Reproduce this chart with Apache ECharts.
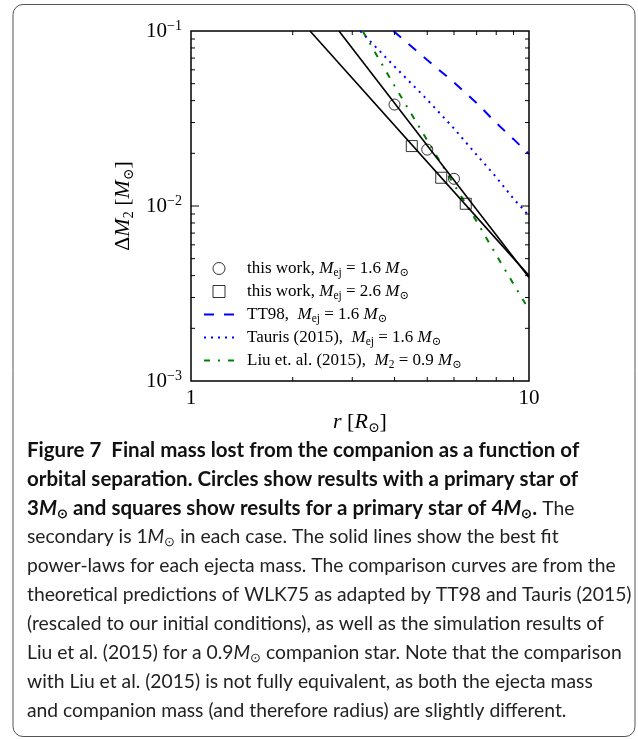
<!DOCTYPE html>
<html><head><meta charset="utf-8">
<script src="https://cdn.jsdelivr.net/npm/echarts@6/dist/echarts.min.js"></script>
<style>html,body{margin:0;padding:0;background:#fff}#c{width:638px;height:740px}</style>
</head><body><div id="c"></div>
<script>
// ---- axis / tick data ----
const xLimits = [1, 10];
const yLimits = [0.001, 0.1];
const xTickValues = [1, 10];
const xTickLabels = ['1', '10'];
const yTickValues = [0.001, 0.01, 0.1];
const yTickExponents = ['\u22123', '\u22122', '\u22121'];
const xMinorTicks = [2, 3, 4, 5, 6, 7, 8, 9];
const yMinorTicks = [0.002, 0.003, 0.004, 0.005, 0.006, 0.007, 0.008, 0.009,
                     0.02, 0.03, 0.04, 0.05, 0.06, 0.07, 0.08, 0.09];
const yMajorTicks = [0.01];

// ---- series data (r in R_sun, dM2 in M_sun) ----
const rCircle = [4, 5, 6];
const dmCircle = [0.038, 0.021, 0.0143];
const rSquare = [4.5, 5.5, 6.5];
const dmSquare = [0.022, 0.0145, 0.0103];
const rFit16 = [2.74, 10];
const dmFit16 = [0.1, 0.0039];
const rFit26 = [2.25, 10];
const dmFit26 = [0.1, 0.0040];
const rTT98 = [3.97, 5, 6, 7, 8, 9, 10];
const dmTT98 = [0.1, 0.0683, 0.0508, 0.0388, 0.0298, 0.0241, 0.0198];
const rTauris = [3.17, 4, 5, 6, 7, 8, 9, 10];
const dmTauris = [0.1, 0.0627, 0.0405, 0.0277, 0.0196, 0.0146, 0.0110, 0.0088];
const rLiu = [3.22, 4, 5, 6, 7, 8, 9, 10];
const dmLiu = [0.1, 0.0486, 0.0237, 0.01325, 0.00817, 0.00525, 0.00358, 0.00255];

const legendTexts = {
  c16: '{g| }{t|this work, }{i|M}{sub|ej}{t| = 1.6 }{i|M}{sub|\u2299}',
  c26: '{g| }{t|this work, }{i|M}{sub|ej}{t| = 2.6 }{i|M}{sub|\u2299}',
  tt98: '{g| }{t|TT98,  }{i|M}{sub|ej}{t| = 1.6 }{i|M}{sub|\u2299}',
  tauris: '{g| }{t|Tauris (2015),  }{i|M}{sub|ej}{t| = 1.6 }{i|M}{sub|\u2299}',
  liu: '{g| }{t|Liu et. al. (2015),  }{i|M}{sub|2}{t| = 0.9 }{i|M}{sub|\u2299}'
};

const captionLines = [
  '{b|Figure 7  Final mass lost from the companion as a function of}',
  '{b|orbital separation. Circles show results with a primary star of}',
  '{b|3}{bi|M}{bsub|\u2299}{b| and squares show results for a primary star of 4}{bi|M}{bsub|\u2299}{b|.}{r| The}',
  '{r|secondary is 1}{ri|M}{rsub|\u2299}{r| in each case. The solid lines show the best fit}',
  '{r|power-laws for each ejecta mass. The comparison curves are from the}',
  '{r|theoretical predictions of WLK75 as adapted by TT98 and Tauris (2015)}',
  '{r|(rescaled to our initial conditions), as well as the simulation results of}',
  '{r|Liu et al. (2015) for a 0.9}{ri|M}{rsub|\u2299}{r| companion star. Note that the comparison}',
  '{r|with Liu et al. (2015) is not fully equivalent, as both the ejecta mass}',
  '{r|and companion mass (and therefore radius) are slightly different.}'
];

const SERIF = '"Liberation Serif", "DejaVu Serif", serif';
const SANS = 'Lato, "Open Sans", sans-serif';
const pairs = (xs, ys) => xs.map((x, i) => [x, ys[i]]);
const nearestIdx = (vals, v) => {
  let best = 0;
  vals.forEach((t, i) => { if (Math.abs(Math.log10(t) - Math.log10(v)) < Math.abs(Math.log10(vals[best]) - Math.log10(v))) best = i; });
  return best;
};

function tickLine(x1, y1, x2, y2) {
  return { type: 'line', shape: { x1, y1, x2, y2 }, style: { stroke: '#000', lineWidth: 1 } };
}
function xTickSeries(vals, len) {
  return {
    type: 'custom', coordinateSystem: 'cartesian2d', silent: true, clip: false, z: 10,
    data: vals.map(v => [v, yLimits[0]]),
    renderItem: (p, api) => {
      const x = api.value(0);
      const b = api.coord([x, yLimits[0]]);
      const t = api.coord([x, yLimits[1]]);
      return { type: 'group', children: [tickLine(b[0], b[1], b[0], b[1] - len), tickLine(t[0], t[1], t[0], t[1] + len)] };
    }
  };
}
function yTickSeries(vals, len) {
  return {
    type: 'custom', coordinateSystem: 'cartesian2d', silent: true, clip: false, z: 10,
    data: vals.map(v => [xLimits[0], v]),
    renderItem: (p, api) => {
      const y = api.value(1);
      const l = api.coord([xLimits[0], y]);
      const r = api.coord([xLimits[1], y]);
      return { type: 'group', children: [tickLine(l[0], l[1], l[0] + len, l[1]), tickLine(r[0], r[1], r[0] - len, r[1])] };
    }
  };
}

const capRich = {
  b: { fontFamily: SANS, fontWeight: 'bold', fontSize: 20.5, lineHeight: 24, fill: '#111' },
  bi: { fontFamily: SANS, fontWeight: 'bold', fontStyle: 'italic', fontSize: 20.5, lineHeight: 24, fill: '#111' },
  bsub: { fontFamily: SANS, fontWeight: 'bold', fontSize: 13, lineHeight: 13, verticalAlign: 'bottom', fill: '#111' },
  r: { fontFamily: SANS, fontSize: 19.3, lineHeight: 24, fill: '#222' },
  ri: { fontFamily: SANS, fontStyle: 'italic', fontSize: 19.3, lineHeight: 24, fill: '#222' },
  rsub: { fontFamily: SANS, fontSize: 13, lineHeight: 13, verticalAlign: 'bottom', fill: '#222' }
};

const graphics = [{
  type: 'rect', shape: { x: 13, y: 4.5, width: 622, height: 732, r: 10 },
  style: { fill: 'none', stroke: '#555', lineWidth: 1 }, silent: true
}];
captionLines.forEach((line, i) => {
  graphics.push({
    type: 'text', left: 27, top: 440 + i * 29, silent: true,
    style: { text: line, rich: capRich, fill: '#222', fontFamily: SANS, fontSize: 19 }
  });
});

const nameRich = {
  n: { fontFamily: SERIF, fontSize: 22, lineHeight: 26, color: '#000' },
  i: { fontFamily: SERIF, fontStyle: 'italic', fontSize: 22, lineHeight: 26, color: '#000' },
  sub: { fontFamily: SERIF, fontSize: 14, lineHeight: 14, verticalAlign: 'bottom', color: '#000' }
};

const chart = echarts.init(document.getElementById('c'), null, { renderer: 'canvas' });
chart.setOption({
  animation: false,
  backgroundColor: '#fff',
  grid: { left: 191, top: 31, width: 338, height: 350, show: true, borderColor: '#000', borderWidth: 1.5, backgroundColor: 'transparent' },
  xAxis: {
    type: 'log', logBase: 10, min: xLimits[0], max: xLimits[1],
    axisLine: { show: false }, axisTick: { show: false }, splitLine: { show: false },
    axisLabel: {
      margin: 7, showMinLabel: true, showMaxLabel: true,
      formatter: v => xTickLabels[nearestIdx(xTickValues, v)],
      fontFamily: SERIF, fontSize: 21, color: '#000'
    },
    name: '{i|r}{n| [}{i|R}{sub|\u2299}{n|]}', nameLocation: 'middle', nameGap: 28,
    nameMoveOverlap: false,
    nameTextStyle: { rich: nameRich }
  },
  yAxis: {
    type: 'log', logBase: 10, min: yLimits[0], max: yLimits[1],
    axisLine: { show: false }, axisTick: { show: false }, splitLine: { show: false },
    axisLabel: {
      margin: 9, showMinLabel: true, showMaxLabel: true,
      formatter: v => '{b|10}{s|' + yTickExponents[nearestIdx(yTickValues, v)] + '}',
      rich: {
        b: { fontFamily: SERIF, fontSize: 21, lineHeight: 24, color: '#000' },
        s: { fontFamily: SERIF, fontSize: 14, lineHeight: 14, verticalAlign: 'top', color: '#000' }
      }
    },
    name: '{n|\u0394}{i|M}{sub|2}{n| [}{i|M}{sub|\u2299}{n|]}', nameLocation: 'middle', nameGap: 55,
    nameMoveOverlap: false,
    nameTextStyle: { rich: nameRich }
  },
  legend: {
    orient: 'vertical', left: 203, top: 260, padding: 0, itemWidth: 30, itemHeight: 12, itemGap: 4.5,
    selectedMode: false,
    data: [
      { name: 'c16', icon: 'circle', itemStyle: { color: 'rgba(0,0,0,0)', borderColor: '#000', borderWidth: 1 } },
      { name: 'c26', icon: 'path://M0 0H10V10H0Z', itemStyle: { color: 'rgba(0,0,0,0)', borderColor: '#000', borderWidth: 1 } },
      { name: 'tt98', itemStyle: { opacity: 0 } },
      { name: 'tauris', itemStyle: { opacity: 0 } },
      { name: 'liu', itemStyle: { opacity: 0 } }
    ],
    formatter: name => legendTexts[name],
    textStyle: {
      rich: {
        g: { width: 8 },
        t: { fontFamily: SERIF, fontSize: 17, lineHeight: 20, color: '#000' },
        i: { fontFamily: SERIF, fontStyle: 'italic', fontSize: 17, lineHeight: 20, color: '#000' },
        sub: { fontFamily: SERIF, fontSize: 11.5, lineHeight: 11, verticalAlign: 'bottom', color: '#000' }
      }
    }
  },
  graphic: graphics,
  series: [
    { name: 'fit16', type: 'line', data: pairs(rFit16, dmFit16), symbol: 'none', silent: true,
      lineStyle: { color: '#000', width: 1.6 }, z: 3 },
    { name: 'fit26', type: 'line', data: pairs(rFit26, dmFit26), symbol: 'none', silent: true,
      lineStyle: { color: '#000', width: 1.6 }, z: 3 },
    { name: 'tt98', type: 'line', data: pairs(rTT98, dmTT98), symbol: 'none', silent: true,
      lineStyle: { color: '#0000ff', width: 2, type: [10, 10] }, itemStyle: { color: '#0000ff' }, z: 2 },
    { name: 'tauris', type: 'line', data: pairs(rTauris, dmTauris), symbol: 'none', silent: true,
      lineStyle: { color: '#0000ff', width: 2, type: [2, 5] }, itemStyle: { color: '#0000ff' }, z: 2 },
    { name: 'liu', type: 'line', data: pairs(rLiu, dmLiu), symbol: 'none', silent: true,
      lineStyle: { color: '#008000', width: 2, type: [6, 8, 2, 8] }, itemStyle: { color: '#008000' }, z: 2 },
    { name: 'c16', type: 'scatter', data: pairs(rCircle, dmCircle), symbol: 'circle', symbolSize: 11, silent: true,
      itemStyle: { color: 'rgba(0,0,0,0)', borderColor: '#000', borderWidth: 1 }, z: 5 },
    { name: 'c26', type: 'scatter', data: pairs(rSquare, dmSquare), symbol: 'rect', symbolSize: 11, silent: true,
      itemStyle: { color: 'rgba(0,0,0,0)', borderColor: '#000', borderWidth: 1 }, z: 5 },
    xTickSeries(xMinorTicks, 4),
    yTickSeries(yMinorTicks, 4),
    yTickSeries(yMajorTicks, 8)
  ]
});
</script>
</body></html>
